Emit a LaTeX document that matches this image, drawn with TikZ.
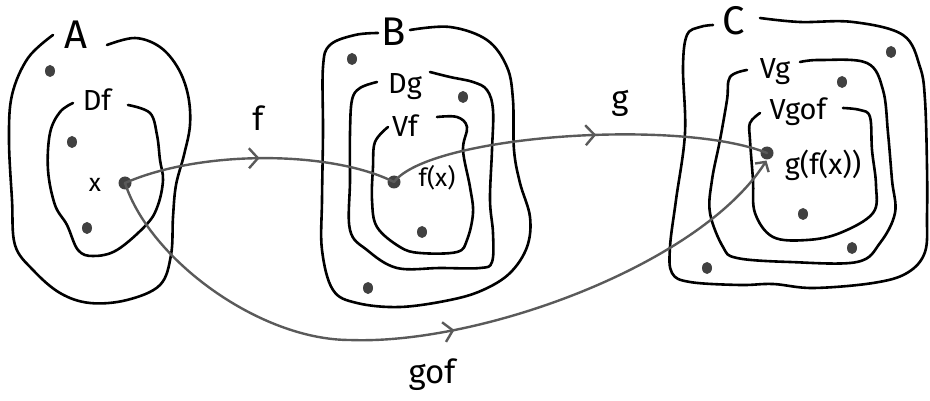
\documentclass[tikz,border=0pt]{standalone}
\usepackage{fontspec}
\setmainfont{Fira Sans}
\usetikzlibrary{arrows.meta,decorations.markings,shapes.geometric}
\definecolor{arrowgray}{RGB}{90,90,90}
\definecolor{dotgray}{RGB}{65,65,65}
\tikzset{
  blob/.style={draw=black, line width=2.6pt, line cap=round, line join=round},
  mapline/.style={draw=arrowgray, line width=2.4pt, line cap=round},
  midarrow/.style={decoration={markings, mark=at position #1 with {\arrow{Straight Barb[length=9pt,width=20pt]}}}, postaction={decorate}},
  dotpt/.style={ellipse, fill=dotgray, inner sep=0pt, minimum width=10pt, minimum height=12pt},
  bigdot/.style={circle, fill=dotgray, inner sep=0pt, minimum size=13pt},
  setlabel/.style={inner sep=0pt, font=\fontsize{40}{40}\selectfont},
  sublabel/.style={inner sep=0pt, font=\fontsize{29}{29}\selectfont},
  maplabel/.style={inner sep=0pt, font=\fontsize{33}{33}\selectfont},
  ptlabel/.style={inner sep=0pt, font=\fontsize{25}{25}\selectfont},
}
\begin{document}
\begin{tikzpicture}[x=1pt, y=-1pt]
\useasboundingbox (0,0) rectangle (930,401);

% ---------- set A ----------
\draw[blob] plot[smooth, tension=0.6] coordinates {(107,45) (135,38) (160,47) (178,68) (188,95) (190,125) (184,155) (176,185) (173,217) (171,255) (160,285) (127,300) (90,303) (60,293) (33,270) (15,245) (12,200) (9,140) (12,95) (28,58) (53,35)};
\draw[blob] plot[smooth, tension=0.6] coordinates {(128,105) (150,113) (157,135) (160,160) (163,180) (158,205) (147,224) (117,250) (93,256) (78,250) (67,225) (55,205) (48,170) (50,133) (60,112) (73,103)};
\node[setlabel] (lA) at (76,35) {A};
\node[sublabel] (lDf) at (97,100) {Df};
\node[dotpt] (a1) at (50,71) {};
\node[dotpt] (a2) at (72,142) {};
\node[dotpt] (a3) at (87,228) {};
\node[ptlabel] (lx) at (95,185) {x};
\node[bigdot] (xdot) at (125,183) {};

% ---------- set B ----------
\draw[blob] plot[smooth, tension=0.6] coordinates {(410,30) (450,27) (487,40) (507,67) (513,100) (514,150) (520,183) (530,217) (527,247) (510,273) (483,290) (450,300) (400,307) (357,303) (333,290) (322,250) (322,200) (323,133) (323,67) (330,45) (355,35) (378,33)};
\draw[blob] plot[smooth, tension=0.6] coordinates {(430,72) (450,77) (473,82) (487,90) (493,110) (492,150) (490,200) (493,233) (492,262) (480,268) (440,268) (397,268) (367,250) (350,230) (350,180) (350,133) (352,100) (360,88) (377,82)};
\draw[blob] plot[smooth, tension=0.6] coordinates {(437,117) (457,117) (467,127) (463,150) (470,187) (473,213) (467,240) (457,252) (420,253) (400,247) (377,227) (372,200) (373,167) (375,142) (388,127)};
\node[setlabel] (lB) at (394,32) {B};
\node[sublabel] (lDg) at (405,87) {Dg};
\node[sublabel] (lVf) at (405,126) {Vf};
\node[dotpt] (b1) at (352,59) {};
\node[dotpt] (b2) at (463,97) {};
\node[dotpt] (b3) at (422,232) {};
\node[dotpt] (b4) at (368,288) {};
\node[ptlabel] (lfx) at (437,178) {f(x)};
\node[bigdot] (fxdot) at (394,182) {};

% ---------- set C ----------
\draw[blob] plot[smooth, tension=0.6] coordinates {(760,18) (800,22) (853,22) (903,35) (920,67) (925,100) (927,167) (927,215) (925,252) (907,273) (873,283) (813,288) (773,284) (740,285) (690,282) (672,273) (670,247) (676,200) (685,133) (683,67) (687,35) (700,27) (713,25)};
\draw[blob] plot[smooth, tension=0.6] coordinates {(800,62) (820,60) (867,63) (883,90) (888,133) (892,180) (895,213) (880,243) (857,262) (790,262) (737,258) (723,247) (710,213) (712,180) (720,140) (727,100) (730,77) (747,70)};
\draw[blob] plot[smooth, tension=0.6] coordinates {(843,108) (860,110) (870,117) (872,150) (876,185) (873,213) (840,233) (807,240) (773,237) (755,213) (753,180) (750,140) (750,123) (760,113)};
\node[setlabel] (lC) at (734,21) {C};
\node[sublabel] (lVg) at (775,72) {Vg};
\node[sublabel] (lVgof) at (798,112) {Vgof};
\node[dotpt] (c1) at (891,52) {};
\node[dotpt] (c2) at (842,82) {};
\node[dotpt] (c3) at (803,214) {};
\node[dotpt] (c4) at (852,248) {};
\node[dotpt] (c5) at (707,268) {};
\node[sublabel] (lgfx) at (823,165) {g(f(x))};
\node[bigdot] (gfx) at (767,153) {};

% ---------- maps ----------
\coordinate (gofbottom) at (350,340);
\draw[mapline, midarrow=0.5] (xdot.center) .. controls (200,150) and (330,150) .. (fxdot.center);
\draw[mapline, midarrow=0.55] (fxdot.center) .. controls (430,135) and (680,118) .. (gfx.center);
\draw[mapline, midarrow=0.52, -{Straight Barb[length=7pt,width=16pt]}, shorten >=1pt] (xdot.center) .. controls (150,260) and (260,340) .. (gofbottom) .. controls (480,345) and (700,265) .. (gfx.south);
\node[maplabel] (lf) at (258,118) {f};
\node[maplabel] (lg) at (620,103) {g};
\node[maplabel] (lgof) at (432,375) {gof};
\end{tikzpicture}
\end{document}
